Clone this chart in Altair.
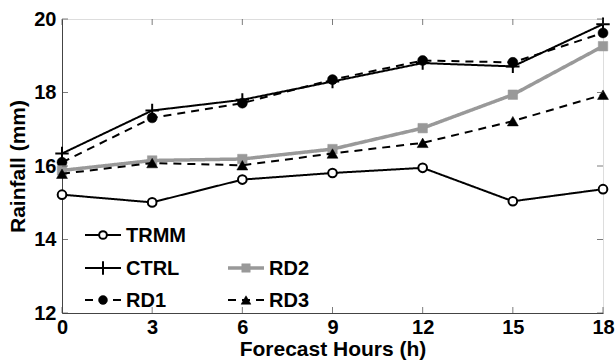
import altair as alt
import pandas as pd

# Forecast hour and area-mean rainfall (mm) for each run
hours = [0, 3, 6, 9, 12, 15, 18]
trmm = [15.22, 15.01, 15.63, 15.81, 15.95, 15.04, 15.37]
ctrl = [16.34, 17.51, 17.80, 18.30, 18.80, 18.71, 19.86]
rd1 = [16.10, 17.31, 17.71, 18.35, 18.87, 18.82, 19.62]
rd2 = [15.88, 16.15, 16.19, 16.46, 17.03, 17.94, 19.26]
rd3 = [15.79, 16.08, 16.02, 16.34, 16.63, 17.22, 17.94]

series_names = ["TRMM", "CTRL", "RD1", "RD2", "RD3"]
series_values = [trmm, ctrl, rd1, rd2, rd3]

x_ticks = [0, 3, 6, 9, 12, 15, 18]
y_ticks = [12, 14, 16, 18, 20]

FONT = "Liberation Sans"
PLUS = "M-1,0L1,0M0,-1L0,1"

# line / marker style per series
styles = {
    "TRMM": dict(color="black", width=2, dash=[1, 0], shape="circle", fill="white", size=75),
    "CTRL": dict(color="black", width=2, dash=[1, 0], shape=PLUS, fill=None, size=180),
    "RD1": dict(color="black", width=2, dash=[8, 6], shape="circle", fill="black", size=100),
    "RD2": dict(color="#999999", width=3.5, dash=[1, 0], shape="square", fill="#999999", size=90),
    "RD3": dict(color="black", width=2, dash=[8, 6], shape="triangle-up", fill="black", size=120),
}

rows = []
for name, vals in zip(series_names, series_values):
    for h, v in zip(hours, vals):
        rows.append({"series": name, "hour": h, "rain": v})
df = pd.DataFrame(rows)

W, H = 541, 294
xscale = alt.Scale(domain=[0, 18], nice=False, zero=False)
yscale = alt.Scale(domain=[12, 20], nice=False, zero=False)

x_enc = alt.X(
    "hour:Q", scale=xscale,
    axis=alt.Axis(values=x_ticks, title="Forecast Hours (h)", tickSize=0, labelPadding=4,
                  grid=False, labelFontSize=20, titleFontSize=21, labelFont=FONT, titleFont=FONT,
                  labelFontWeight="bold", titleFontWeight="bold", labelColor="black",
                  titleColor="black", domainColor="#444444", titlePadding=1, labelFlush=False,
                  labelOverlap=False),
)
y_enc = alt.Y(
    "rain:Q", scale=yscale,
    axis=alt.Axis(values=y_ticks, title="Rainfall (mm)", tickSize=0, labelPadding=6,
                  grid=False, labelFontSize=20, titleFontSize=21, labelFont=FONT, titleFont=FONT,
                  labelFontWeight="bold", titleFontWeight="bold", labelColor="black",
                  titleColor="black", domainColor="#444444", titlePadding=5, labelFlush=False,
                  labelOverlap=False),
)

base = alt.Chart(df)
layers = []
for name in series_names:
    s = styles[name]
    sub = base.transform_filter(alt.datum.series == name)
    layers.append(
        sub.mark_line(color=s["color"], strokeWidth=s["width"], strokeDash=s["dash"]).encode(
            x=x_enc, y=y_enc)
    )
    if s["fill"] is None:
        pt = sub.mark_point(shape=s["shape"], size=s["size"], filled=False, stroke=s["color"],
                            strokeWidth=2, opacity=1)
    else:
        pt = sub.mark_point(shape=s["shape"], size=s["size"], filled=True, fill=s["fill"],
                            stroke=s["color"], strokeWidth=2 if s["fill"] == "white" else 0.5,
                            opacity=1)
    layers.append(pt.encode(x=x_enc, y=y_enc))

# inward ticks on all four sides of the box
xt = pd.DataFrame({"hour": x_ticks})
yt = pd.DataFrame({"rain": y_ticks})
tick_style = dict(color="#444444", thickness=1, size=6)
layers.append(alt.Chart(xt).mark_tick(orient="vertical", yOffset=-3, **tick_style).encode(
    x=alt.X("hour:Q", scale=xscale), y=alt.datum(12)))
layers.append(alt.Chart(xt).mark_tick(orient="vertical", yOffset=3, **tick_style).encode(
    x=alt.X("hour:Q", scale=xscale), y=alt.datum(20)))
layers.append(alt.Chart(yt).mark_tick(orient="horizontal", xOffset=3, **tick_style).encode(
    y=alt.Y("rain:Q", scale=yscale), x=alt.datum(0)))
layers.append(alt.Chart(yt).mark_tick(orient="horizontal", xOffset=-3, **tick_style).encode(
    y=alt.Y("rain:Q", scale=yscale), x=alt.datum(18)))

# legend block inside the lower-left corner of the plot
legend_slots = {
    "TRMM": (0, 0), "CTRL": (0, 1), "RD1": (0, 2),
    "RD2": (1, 1), "RD3": (1, 2),
}
col_x = [23, 166]
row_y = [216, 249, 281]
for name, (c, r) in legend_slots.items():
    s = styles[name]
    x0 = col_x[c]
    yy = row_y[r]
    one = pd.DataFrame({"label": [name]})
    lc = alt.Chart(one)
    layers.append(lc.mark_rule(color=s["color"], strokeWidth=s["width"], strokeDash=s["dash"]).encode(
        x=alt.value(x0), x2=alt.value(x0 + 36), y=alt.value(yy)))
    if s["fill"] is None:
        lp = lc.mark_point(shape=s["shape"], size=s["size"], filled=False, stroke=s["color"],
                           strokeWidth=2, opacity=1)
    else:
        lp = lc.mark_point(shape=s["shape"], size=s["size"] * 0.8, filled=True, fill=s["fill"],
                           stroke=s["color"], strokeWidth=2 if s["fill"] == "white" else 0.5,
                           opacity=1)
    layers.append(lp.encode(x=alt.value(x0 + 18), y=alt.value(yy)))
    layers.append(lc.mark_text(align="left", baseline="middle", font=FONT, fontSize=20,
                               fontWeight="bold", color="black").encode(
        x=alt.value(x0 + 41), y=alt.value(yy + 1), text="label:N"))

chart = alt.layer(*layers).properties(
    width=W, height=H,
    autosize=alt.AutoSizeParams(type="none"),
    padding={"left": 62, "top": 19, "right": 12, "bottom": 48},
).configure_view(stroke="#444444", strokeWidth=1).configure(background="white")

chart.save("out.html", embed_options={"renderer": "svg", "actions": False})
